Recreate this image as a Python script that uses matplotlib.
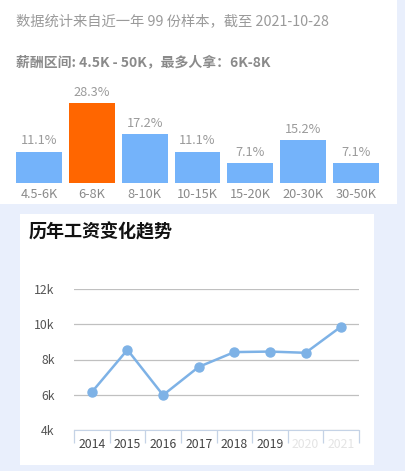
import matplotlib
matplotlib.use("Agg")
import matplotlib.pyplot as plt
from matplotlib.patches import Rectangle

plt.rcParams['font.family'] = ['Noto Sans CJK SC', 'DejaVu Sans']

# ---- data ----
salary_ranges = ["4.5-6K", "6-8K", "8-10K", "10-15K", "15-20K", "20-30K", "30-50K"]
salary_pct = [11.1, 28.3, 17.2, 11.1, 7.1, 15.2, 7.1]
highlight_idx = 1

years = ["2014", "2015", "2016", "2017", "2018", "2019", "2020", "2021"]
avg_salary = [6150, 8550, 5980, 7580, 8420, 8450, 8380, 9870]
y_ticks = [4000, 6000, 8000, 10000, 12000]
y_tick_labels = ["4k", "6k", "8k", "10k", "12k"]

subtitle = "数据统计来自近一年 99 份样本，截至 2021-10-28"
range_text = "薪酬区间: 4.5K - 50K，最多人拿：6K-8K"
trend_title = "历年工资变化趋势"

W, H = 405, 471
fig = plt.figure(figsize=(W / 100, H / 100), dpi=100)
fig.patch.set_facecolor("#e9effc")


def box(x0, y0, x1, y1):
    """pixel box (top-left origin) -> figure fraction rect"""
    return [x0 / W, 1 - y1 / H, (x1 - x0) / W, (y1 - y0) / H]


def fx(x):
    return x / W


def fy(y):
    return 1 - y / H


# white cards
for (x0, y0, x1, y1) in [(0, 0, 397, 204), (20, 214, 374, 465)]:
    b = box(x0, y0, x1, y1)
    fig.patches.append(Rectangle((b[0], b[1]), b[2], b[3], transform=fig.transFigure,
                                 facecolor="white", edgecolor="none", zorder=-5))

fig.text(fx(16), fy(21), subtitle, fontsize=10.3, color="#9a9a9a", va="center", ha="left")
fig.text(fx(16), fy(62), range_text, fontsize=10.0, color="#8a8a8a", fontweight="bold",
         va="center", ha="left")

# ---- bar chart ----
ax1 = fig.add_axes(box(12.5, 83, 382.5, 183))
colors = ["#ff6600" if i == highlight_idx else "#74b3fa" for i in range(len(salary_pct))]
xs = list(range(len(salary_ranges)))
bars = ax1.bar(xs, salary_pct, width=0.87, color=colors, zorder=2)
for x, v in zip(xs, salary_pct):
    ax1.annotate(f"{v}%", (x, v), xytext=(0, 3), textcoords="offset points",
                 ha="center", va="bottom", fontsize=9.2, color="#9a9a9a")
ax1.set_xlim(-0.5, len(xs) - 0.5)
ax1.set_ylim(0, 35.3)
ax1.set_xticks(xs)
ax1.set_xticklabels(salary_ranges, fontsize=9.2, color="#8a8a8a")
ax1.tick_params(axis="x", length=0, pad=3.5)
ax1.set_yticks([])
for s in ax1.spines.values():
    s.set_visible(False)
ax1.patch.set_alpha(0)

# ---- line chart ----
fig.text(fx(29), fy(232), trend_title, fontsize=13, color="#111111", fontweight="bold",
         va="center", ha="left")
ax2 = fig.add_axes(box(74, 289, 359, 430))
xi = list(range(len(years)))
ax2.plot(xi, avg_salary, color="#7eb2e6", lw=1.8, marker="o", markersize=6.5,
         markerfacecolor="#7eb2e6", markeredgecolor="#7eb2e6", zorder=3)
ax2.set_xlim(-0.5, len(years) - 0.5)
ax2.set_ylim(4000, 12000)
ax2.set_yticks(y_ticks)
ax2.set_yticklabels(y_tick_labels, fontsize=8.8, color="#555555")
ax2.tick_params(axis="y", length=0, pad=14)
ax2.grid(axis="y", color="#c0c0c0", lw=0.9, zorder=0)
ax2.set_axisbelow(True)
ax2.set_xticks([i - 0.5 for i in range(len(years) + 1)], minor=False)
ax2.set_xticklabels([])
ax2.set_xticks(xi, minor=True)
ax2.set_xticklabels(years, minor=True, fontsize=8.8, color="#444444")
for lbl in ax2.get_xticklabels(minor=True)[6:]:
    lbl.set_color("#e4e4e4")
ax2.tick_params(axis="x", which="major", length=9, color="#c5d3e6", width=0.9)
ax2.tick_params(axis="x", which="minor", length=0, pad=6)
for k in ["top", "right", "left"]:
    ax2.spines[k].set_visible(False)
ax2.spines["bottom"].set_color("#c5d3e6")
ax2.patch.set_alpha(0)

fig.savefig("out.png", dpi=100, facecolor=fig.get_facecolor())
